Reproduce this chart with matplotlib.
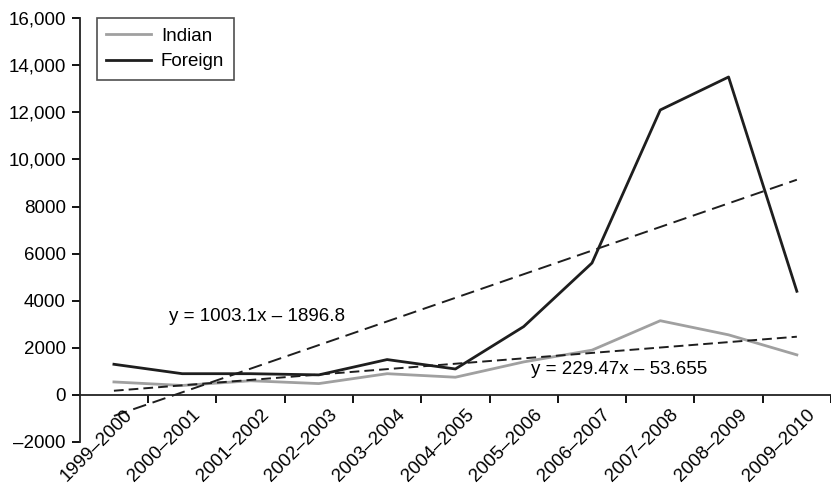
import numpy as np
import matplotlib.pyplot as plt

plt.rcParams['font.family'] = ['Liberation Sans', 'DejaVu Sans']

years = ['1999–2000', '2000–2001', '2001–2002', '2002–2003', '2003–2004',
         '2004–2005', '2005–2006', '2006–2007', '2007–2008', '2008–2009',
         '2009–2010']
indian = [550, 400, 600, 480, 900, 750, 1400, 1900, 3150, 2550, 1700]
foreign = [1300, 900, 900, 850, 1500, 1100, 2900, 5600, 12100, 13500, 4400]

# linear trendlines as printed on the chart
foreign_fit = (1003.1, -1896.8)
indian_fit = (229.47, -53.655)

yticks = [-2000, 0, 2000, 4000, 6000, 8000, 10000, 12000, 14000, 16000]
ylabels = ['–2000', '0', '2000', '4000', '6000', '8000',
           '10,000', '12,000', '14,000', '16,000']

fs = 13.5
x = np.arange(len(years))
xn = x + 1

fig = plt.figure(figsize=(8.31, 4.9), dpi=100)
ax = fig.add_axes([0.096, 0.098, 0.904, 0.865])

ax.plot(x, indian, color='#a0a0a0', lw=2.0, label='Indian')
ax.plot(x, foreign, color='#1e1e1e', lw=2.0, label='Foreign')
ax.plot(x, foreign_fit[0]*xn + foreign_fit[1], color='#1e1e1e', lw=1.4,
        dashes=(7, 3.5))
ax.plot(x, indian_fit[0]*xn + indian_fit[1], color='#1e1e1e', lw=1.4,
        dashes=(5, 2.6))

ax.text(0.8, 3350, 'y = 1003.1x – 1896.8', fontsize=fs, va='center')
ax.text(6.1, 1060, 'y = 229.47x – 53.655', fontsize=fs, va='center')

ax.set_xlim(-0.5, 10.4)
ax.set_ylim(-2000, 16000)

ax.set_yticks(yticks)
ax.set_yticklabels(ylabels, fontsize=fs)
ax.tick_params(axis='y', length=6, width=1.3, pad=4)

# category boundaries as ticks, rotated category names below the zero line
ax.set_xticks(x + 0.5)
ax.set_xticklabels([])
ax.tick_params(axis='x', length=6, width=1.3, direction='out')
for i, name in zip(x, years):
    ax.annotate(name, xy=(i, 0), xycoords='data', xytext=(7, -8),
                textcoords='offset points', rotation=45, ha='right',
                va='top', rotation_mode='anchor', fontsize=fs,
                annotation_clip=False)

ax.spines['top'].set_visible(False)
ax.spines['right'].set_visible(False)
ax.spines['bottom'].set_position(('data', 0))
for s in ['left', 'bottom']:
    ax.spines[s].set_linewidth(1.3)
    ax.spines[s].set_color('#222222')

leg = ax.legend(loc='upper left', bbox_to_anchor=(0.023, 1.0), fontsize=fs,
                frameon=True, fancybox=False, edgecolor='#222222',
                handlelength=2.4, handletextpad=0.5, borderpad=0.5,
                labelspacing=0.45, borderaxespad=0)
leg.get_frame().set_linewidth(1.2)

fig.savefig('out.png', dpi=100)
